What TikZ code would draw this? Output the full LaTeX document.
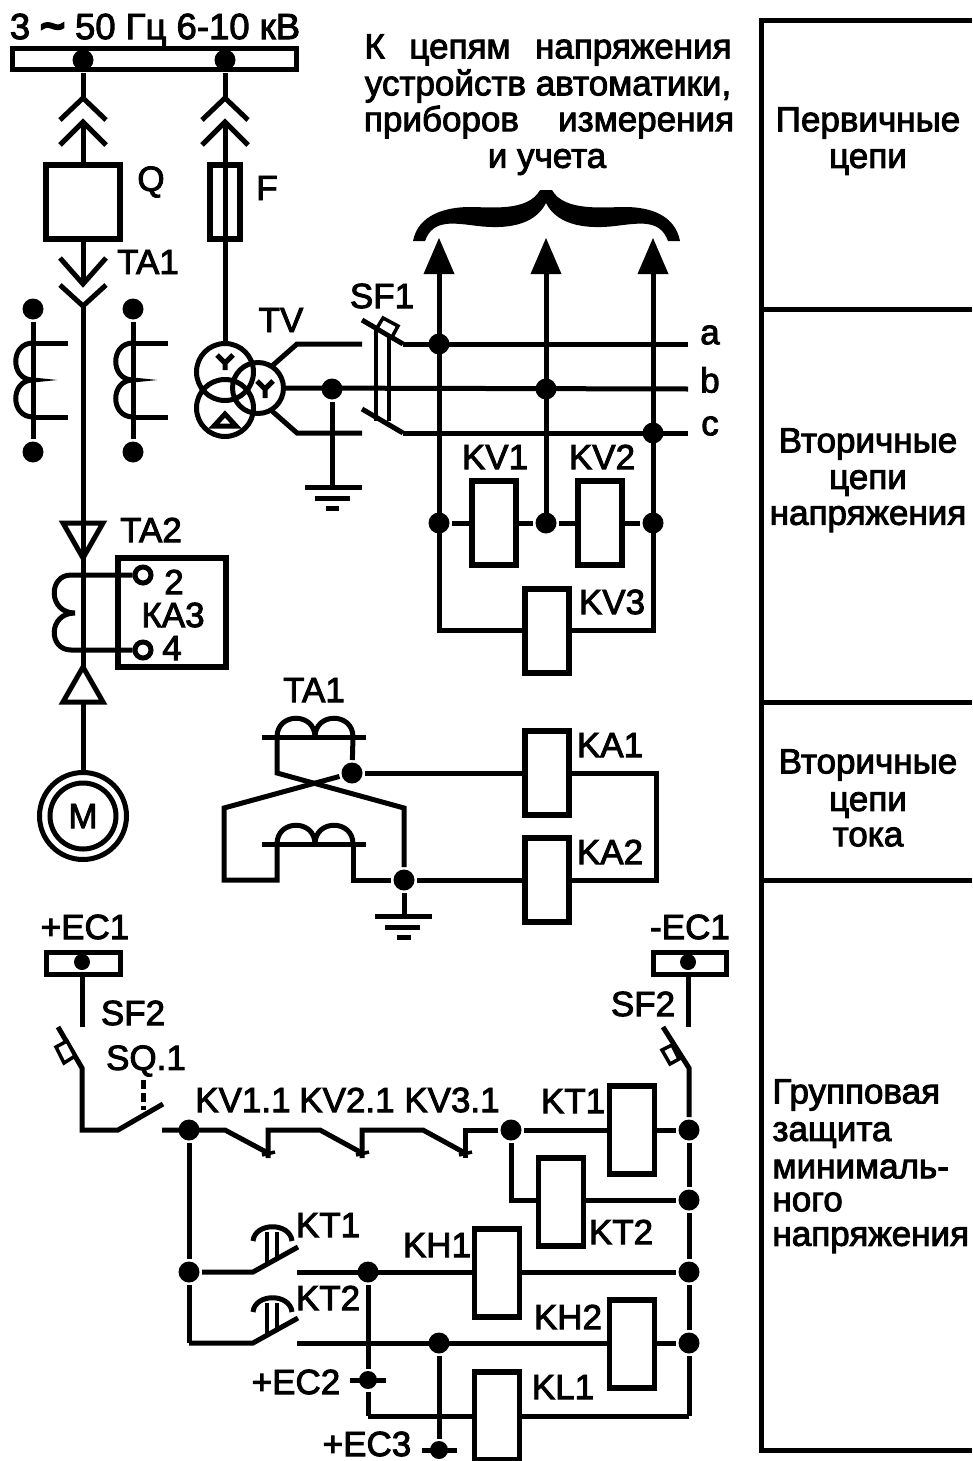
\documentclass[tikz,border=0pt]{standalone}
\usepackage{fontspec}
\newfontfamily\lblfont[RawFeature={embolden=2.6}]{Liberation Sans}
\newfontfamily\tildefont[RawFeature={embolden=7}]{Liberation Sans}
\tikzset{
  wire/.style={line width=5pt,line cap=butt,line join=miter},
  dot/.style={circle,fill=black,draw=none,minimum size=21pt,inner sep=0pt},
  sdot/.style={circle,fill=black,draw=none,minimum size=16pt,inner sep=0pt},
  lbl/.style={font=\lblfont\fontsize{35}{38}\selectfont,inner sep=0pt,text=black},
  relay/.style={draw=black,fill=white,line width=5.4pt,minimum width=44pt,minimum height=84pt,inner sep=0pt},
  relayb/.style={relay,minimum width=45pt,minimum height=88pt},
  term/.style={circle,draw=black,fill=white,line width=5pt,minimum size=16pt,inner sep=0pt},
  panel/.style={line width=5pt}
}
\begin{document}
\begin{tikzpicture}[x=1pt,y=-1pt,wire]
\useasboundingbox (0,0) rectangle (972,1461);
\fill[white] (0,0) rectangle (972,1461);

% ---- right-hand panel
\draw[panel] (972,21) -- (761,21) -- (761,1450) -- (972,1450);
\draw[panel] (761,309) -- (972,309);
\draw[panel] (761,702) -- (972,702);
\draw[panel] (761,880) -- (972,880);
\node[lbl] (p1) at (868,123) {Первичные};
\node[lbl] (p2) at (868,162) {цепи};
\node[lbl] (p3) at (868,444) {Вторичные};
\node[lbl] (p4) at (868,483) {цепи};
\node[lbl] (p5) at (868,519) {напряжения};
\node[lbl] (p6) at (868,765) {Вторичные};
\node[lbl] (p7) at (868,805) {цепи};
\node[lbl] (p8) at (868,837) {тока};
\node[lbl,anchor=west] (p9) at (770,1095) {Групповая};
\node[lbl,anchor=west] (p10) at (770,1135) {защита};
\node[lbl,anchor=west] (p11) at (770,1169) {минималь-};
\node[lbl,anchor=west] (p12) at (770,1202) {ного};
\node[lbl,anchor=west] (p13) at (770,1240) {напряжения};

% ---- top titles
\node[lbl,font=\lblfont\fontsize{36.5}{38}\selectfont] (t0) at (155,30) {3 {\tildefont\fontsize{42}{38}\selectfont\raisebox{-1pt}{\textasciitilde}} 50 Гц 6-10 кВ};
\node[lbl] (t1) at (548,50) {\hbox to 367pt{К\hfill цепям\hfill напряжения}};
\node[lbl] (t2) at (548,86) {устройств автоматики,};
\node[lbl] (t3) at (549,122) {\hbox to 370pt{приборов\hfill измерения}};
\node[lbl] (t4) at (547,162) {и учета};

% ---- HV bus
\draw (12,49) rectangle (296,70);
\node[dot] (b1) at (83,60) {};
\node[dot] (b2) at (225,60) {};

% ---- feeder
\coordinate (c1) at (83,98);
\coordinate (c2) at (83,122);
\node[draw,line width=5.4pt,fill=white,minimum width=74pt,minimum height=74pt,inner sep=0pt] (Q) at (83,202) {};
\coordinate (c3) at (83,284);
\coordinate (c4) at (83,306);
\coordinate (c5) at (83,558);
\coordinate (c6) at (83,667);
\draw (b1) -- (c1);
\draw (c2) -- (Q);
\draw (Q) -- (c3);
\draw (60,120) -- (c1) -- (106,120);
\draw (60,145) -- (c2) -- (106,145);
\draw (60,258) -- (c3) -- (106,258);
\draw (60,285) -- (c4) -- (106,285);
\draw (c4) -- (c5);
\draw (c5) -- (c6);
\node[lbl] (lQ) at (151,182) {Q};
\node[lbl] (lTA1) at (148,262) {TA1};

% ---- current transformers TA1 side view
\foreach \cx/\cn in {33/a,133/b}{
  \node[dot] (tt\cn) at (\cx,309) {};
  \node[dot] (tb\cn) at (\cx,452) {};
  \draw (tt\cn) -- (tb\cn);
  \draw (\cx,343) -- (\cx+35,343);
  \draw (\cx,417) -- (\cx+35,417);
  \draw (\cx,343) .. controls (\cx-23,343) and (\cx-23,380) .. (\cx,380)
        .. controls (\cx-23,380) and (\cx-23,417) .. (\cx,417);
}

% ---- fuse and TV
\coordinate (d1) at (225,98);
\coordinate (d2) at (225,122);
\node[draw,line width=5.4pt,minimum width=30pt,minimum height=74pt,inner sep=0pt] (F) at (225,202) {};
\coordinate (d3) at (225,345);
\draw (b2) -- (d1);
\draw (d2) -- (d3);
\draw (202,120) -- (d1) -- (248,120);
\draw (202,145) -- (d2) -- (248,145);
\node[lbl] (lF) at (267,188) {F};
\node[lbl] (lTV) at (281,320) {TV};
\node[circle,draw,minimum size=57pt,inner sep=0pt] (w1) at (225,372) {};
\node[circle,draw,minimum size=57pt,inner sep=0pt] (w2) at (225,408) {};
\node[circle,draw,minimum size=51pt,inner sep=0pt] (w3) at (258,388) {};
\draw (217,355) -- (225,363) -- (233,355) (225,363) -- (225,370);
\draw (257,381) -- (265,389) -- (273,381) (265,389) -- (265,398);
\draw (225,414) -- (214,426) -- (236,426) -- cycle;
% secondary lines
\coordinate (s1) at (362,344);
\coordinate (s3) at (362,433);
\coordinate (ea) at (688,344);
\coordinate (eb) at (688,389);
\coordinate (ec) at (688,433);
\coordinate (ba) at (403,344);
\coordinate (bc) at (403,433);
\draw (272,366) -- (297,344) -- (s1);
\draw (w3.east) -- (eb);
\draw (272,411) -- (297,433) -- (s3);
\draw (ba) -- (ea);
\draw (bc) -- (ec);
% SF1
\draw (362,320) -- (ba);
\draw (362,409) -- (bc);
\draw[line width=4pt] (376,327) -- (376,421);
\draw[line width=4pt] (389,333) -- (389,421);
\draw[line width=3.5pt,fill=white] (383,318) -- (398,326) -- (392,337) -- (377,328) -- cycle;
\node[lbl] (lSF1) at (382,296) {SF1};
% ground TV
\node[dot] (g1) at (332,389) {};
\coordinate (g1b) at (332,487);
\draw (g1) -- (g1b);
\draw (305,487) -- (362,487);
\draw (315,498) -- (350,498);
\draw (326,508) -- (339,508);

% ---- phases, brace, arrows
\node[dot] (pa) at (439,344) {};
\node[dot] (pb) at (546,389) {};
\node[dot] (pc) at (653,433) {};
\foreach \ax in {439,546,653}{
  \draw (\ax,270) -- (\ax,523);
  \fill[black] (\ax,238) -- (\ax+15.5,274) -- (\ax-15.5,274) -- cycle;
}
\fill[black] (413,241) .. controls (418,215) and (445,207) .. (470,207)
   .. controls (490,207) and (528,212) .. (540,190) -- (552,190)
   .. controls (564,212) and (605,207) .. (625,207)
   .. controls (650,207) and (675,215) .. (680,241) -- (668,241)
   .. controls (660,219) and (640,223) .. (615,226)
   .. controls (590,229) and (558,227) .. (546,203)
   .. controls (534,227) and (503,229) .. (478,226)
   .. controls (453,223) and (433,219) .. (425,241) -- cycle;
\node[lbl] (la) at (710,335) {a};
\node[lbl] (lb) at (710,380) {b};
\node[lbl] (lc) at (710,426) {c};

% ---- KV relays
\node[dot] (k1) at (439,523) {};
\node[dot] (k2) at (546,523) {};
\node[dot] (k3) at (653,523) {};
\draw (439,523) -- (439,630) -- (525,630);
\draw (653,523) -- (653,630) -- (569,630);
\draw (k1) -- (k2);
\draw (k2) -- (k3);
\node[relay] (KV1) at (494,523) {};
\node[relay] (KV2) at (600,523) {};
\node[relay] (KV3) at (547,631) {};
\node[lbl] (lKV1) at (495,457) {KV1};
\node[lbl] (lKV2) at (602,457) {KV2};
\node[lbl] (lKV3) at (612,602) {KV3};

% ---- TA2, KA3, motor
\draw[line width=5.4pt] (118,558) rectangle (226,667);
\node[term] (t2a) at (143,575) {};
\node[term] (t4a) at (143,650) {};
\draw (t2a) -- (71,575) .. controls (48,575) and (48,613) .. (75,613)
      .. controls (48,613) and (48,650) .. (71,650) -- (t4a);
\draw (63,523) -- (103,523) -- (83,558) -- cycle;
\draw (63,702) -- (103,702) -- (83,667) -- cycle;
\draw (83,702) -- (83,772);
\node[lbl] (l2) at (174,582) {2};
\node[lbl] (lKA3) at (173,615) {КА3};
\node[lbl] (l4) at (172,648) {4};
\node[lbl] (lTA2) at (151,530) {TA2};
\node[circle,draw,minimum size=87pt,inner sep=0pt] (M1) at (83,816) {};
\node[circle,draw,minimum size=66pt,inner sep=0pt,lbl] (M2) at (83,816) {M};

% ---- TA1 secondary circuit
\node[lbl] (lTA1b) at (314,690) {TA1};
\draw (262,737) -- (366,737);
\draw (262,844) -- (366,844);
\foreach \yy in {737,844}{
  \draw (277,\yy) .. controls (277,\yy-25) and (315,\yy-25) .. (315,\yy)
        .. controls (315,\yy-25) and (353,\yy-25) .. (353,\yy);
}
\node[dot] (ka) at (352,773) {};
\node[dot] (kb) at (404,880) {};
\draw (277,737) -- (277,773) -- (404,808) -- (kb);
\draw (353,737) -- (ka);
\draw (ka) -- (224,808) -- (224,880) -- (277,880) -- (277,844);
\draw (353,844) -- (353,880) -- (kb);
\node[relay] (KA1) at (547,773) {};
\node[relay] (KA2) at (547,880) {};
\draw (ka) -- (KA1);
\draw (kb) -- (KA2);
\draw (KA1) -- (656,773) -- (656,880) -- (KA2);
\coordinate (g2) at (404,916);
\draw (kb) -- (g2);
\draw (375,916) -- (432,916);
\draw (385,927) -- (420,927);
\draw (397,937) -- (411,937);
\node[lbl] (lKA1) at (610,745) {KA1};
\node[lbl] (lKA2) at (610,852) {KA2};

% ---- DC section, left
\node[lbl] (lEC1) at (85,927) {+EC1};
\draw (46,952) rectangle (120,974);
\node[sdot] (e1) at (82,962) {};
\coordinate (e1b) at (82,1027);
\draw (e1) -- (e1b);
\node[lbl] (lSF2a) at (133,1013) {SF2};
\draw (58,1027) -- (82,1068) -- (82,1130) -- (118,1130) -- (163,1104);
\draw[line width=3.5pt,fill=white] (56,1047) -- (67,1041) -- (75,1056) -- (64,1063) -- cycle;
\draw[dash pattern=on 9pt off 4pt] (143,1080) -- (143,1110);
\node[lbl] (lSQ) at (146,1061) {SQ.1};

\node[dot] (n1) at (189,1130) {};
\coordinate (n2) at (162,1130);
\node[dot] (n3) at (511,1130) {};
\draw (n2) -- (225,1130) -- (268,1153);
\draw (268,1158) -- (268,1130) -- (320,1130) -- (362,1153);
\draw (362,1158) -- (362,1130) -- (423,1130) -- (465,1153);
\draw (465,1158) -- (465,1130) -- (n3);
\draw[line width=3.5pt] (262,1155) -- (275,1152);
\draw[line width=3.5pt] (356,1155) -- (369,1152);
\draw[line width=3.5pt] (459,1155) -- (472,1152);
\node[lbl] (lv1) at (243,1100) {KV1.1};
\node[lbl] (lv2) at (347,1100) {KV2.1};
\node[lbl] (lv3) at (452,1100) {KV3.1};

\node[dot] (n4) at (189,1272) {};
\coordinate (n5) at (189,1343);
\draw (n1) -- (n4);
\draw (n4) -- (n5);
\draw (n4) -- (253,1272) -- (298,1247);
\draw (n5) -- (253,1343) -- (298,1318);
\foreach \ty in {0,71}{
  \draw[line width=4pt] (267,1264+\ty) -- (267,1232+\ty);
  \draw[line width=4pt] (277,1258+\ty) -- (277,1232+\ty);
  \draw (253,1241+\ty) .. controls (255,1222+\ty) and (290,1222+\ty) .. (292,1241+\ty);
}
\node[lbl] (lKT1a) at (328,1225) {KT1};
\node[lbl] (lKT2a) at (328,1298) {KT2};

% ---- DC section, right
\node[lbl] (lEC1b) at (690,927) {-EC1};
\draw (653,952) rectangle (726,974);
\node[sdot] (e2) at (688,962) {};
\coordinate (e2b) at (688,1027);
\draw (e2) -- (e2b);
\node[lbl] (lSF2b) at (643,1004) {SF2};
\node[dot] (r1) at (689,1130) {};
\node[dot] (r2) at (689,1200) {};
\node[dot] (r3) at (689,1272) {};
\node[dot] (r4) at (689,1343) {};
\coordinate (r5) at (689,1416);
\draw (663,1027) -- (689,1068) -- (r1);
\draw (r1) -- (r2);
\draw (r2) -- (r3);
\draw (r3) -- (r4);
\draw (r4) -- (r5);
\draw[line width=3.5pt,fill=white] (662,1050) -- (672,1045) -- (679,1059) -- (670,1064) -- cycle;

\node[dot] (m1) at (368,1272) {};
\node[dot] (m2) at (439,1343) {};
\node[sdot,minimum size=18pt] (m3) at (368,1380) {};
\node[sdot,minimum size=18pt] (m4) at (439,1450) {};
\coordinate (m5) at (368,1416);
\coordinate (f1) at (297,1272);
\coordinate (f2) at (297,1343);
\draw (m1) -- (m3);
\draw (m3) -- (m5);
\draw (350,1380) -- (386,1380);
\draw (m2) -- (m4);
\draw (422,1450) -- (457,1450);
\node[lbl] (lEC2) at (296,1382) {+EC2};
\node[lbl] (lEC3) at (367,1444) {+EC3};

\node[relayb] (KT1) at (632,1130) {};
\node[relayb] (KT2) at (561,1202) {};
\node[relayb] (KH1) at (497,1273) {};
\node[relayb] (KH2) at (632,1344) {};
\node[relayb] (KL1) at (497,1416) {};
\draw (n3) -- (KT1.west |- n3);
\draw (KT1.east |- r1) -- (r1);
\draw (n3) -- (511,1200) -- (KT2.west |- r2);
\draw (KT2.east |- r2) -- (r2);
\draw (f1) -- (KH1.west |- r3);
\draw (KH1.east |- r3) -- (r3);
\draw (f2) -- (KH2.west |- r4);
\draw (KH2.east |- r4) -- (r4);
\draw (m5) -- (KL1.west);
\draw (KL1.east) -- (r5);
\node[lbl] (lKT1) at (573,1101) {KT1};
\node[lbl] (lKT2) at (621,1232) {KT2};
\node[lbl] (lKH1) at (437,1245) {KH1};
\node[lbl] (lKH2) at (568,1317) {KH2};
\node[lbl] (lKL1) at (563,1387) {KL1};
\end{tikzpicture}
\end{document}
